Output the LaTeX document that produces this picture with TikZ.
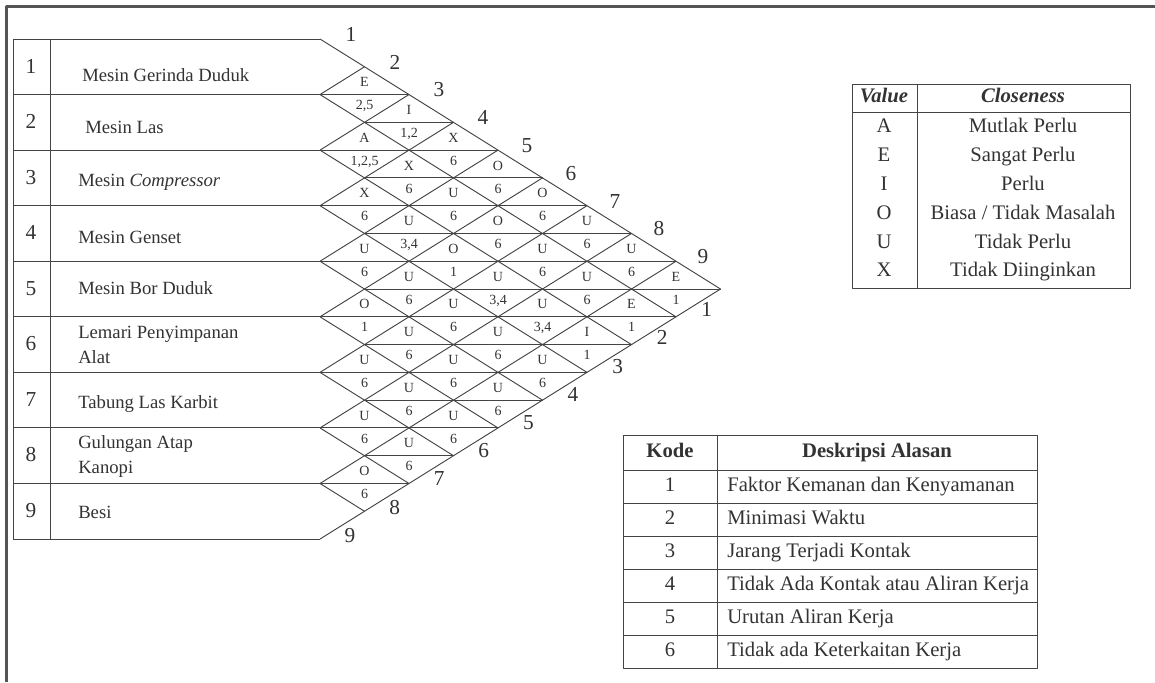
\documentclass[tikz,border=0pt]{standalone}
\usepackage{fontspec}
\setmainfont{Liberation Serif}
\definecolor{ink}{HTML}{333333}
\definecolor{rule}{HTML}{444444}
\definecolor{frame}{HTML}{555555}

% one text line of the relationship chart: #1 = level, #2 = entries left to right
\newcommand\arcrow[2]{%
  \foreach \lbl [count=\idx from 0] in {#2} {%
    \pgfmathtruncatemacro\istop{mod(\idx+#1,2)==0 ? 1 : 0}%
    \pgfmathsetmacro\ty{\istop==1 ? (\Y+\h*#1-11.5) : (\Y+\h*(#1-1)+11.5)}%
    \node[cell] (c-#1-\idx) at ({\X+\w*(\idx+1)},\ty) {\lbl};
  }}

\begin{document}
\begin{tikzpicture}[x=0.75pt,y=-0.75pt,line join=round,
  grid/.style={draw=rule,line width=0.7pt},
  cell/.style={font=\fontsize{10.5}{12}\selectfont,text=ink,inner sep=0pt,text height=1.4ex,text depth=0.2ex},
  edgenum/.style={font=\fontsize{16}{18}\selectfont,text=ink,inner sep=0pt,text height=1.4ex,text depth=0ex},
  rownum/.style={edgenum},
  rowname/.style={font=\fontsize{14}{18.75}\selectfont,text=ink,anchor=base west,inner sep=0pt,align=left},
  tab/.style={font=\fontsize{15.5}{18}\selectfont,text=ink,inner sep=0pt,text height=1.45ex,text depth=0.05ex},
  tabhead/.style={tab,font=\fontsize{15.5}{18}\selectfont\bfseries}]
\useasboundingbox (0,0) rectangle (1155,682);
\fill[white] (0,0) rectangle (1155,682);

% page frame
\draw[draw=frame,line width=2pt] (6.5,682) -- (6.5,6.5) -- (1155,6.5);

\def\X{320}\def\Y{39}\def\h{27.78}\def\w{44.5}

% activity rows on the left
\foreach \k in {0,...,9}
  \draw[grid] (13,{\Y+2*\h*\k}) -- (\X,{\Y+2*\h*\k});
\draw[grid] (13,\Y) -- (13,{\Y+18*\h});
\draw[grid] (50,\Y) -- (50,{\Y+18*\h});

% horizontal diagonals of the diamonds
\foreach \m in {2,...,16} {
  \pgfmathtruncatemacro\dmin{mod(\m,2)==0 ? 1 : 2}
  \pgfmathtruncatemacro\imin{max(1,\m-8)}
  \pgfmathtruncatemacro\dmax{\m+1-2*\imin}
  \draw[grid] ({\X+\w*(\dmin-1)},{\Y+\h*\m}) -- ({\X+\w*(\dmax+1)},{\Y+\h*\m});
}
% slanted grid lines
\foreach \k in {0,...,8}
  \draw[grid] (\X,{\Y+2*\h*\k}) -- ({\X+(9-\k)*\w},{\Y+\h*(\k+9)});
\foreach \k in {1,...,9}
  \draw[grid] (\X,{\Y+2*\h*\k}) -- ({\X+\k*\w},{\Y+\h*\k});

% relationship codes and reasons
\arcrow{2}{E}
\arcrow{3}{{2,5},I}
\arcrow{4}{A,{1,2},X}
\arcrow{5}{{1,2,5},X,6,O}
\arcrow{6}{X,6,U,6,O}
\arcrow{7}{6,U,6,O,6,U}
\arcrow{8}{U,{3,4},O,6,U,6,U}
\arcrow{9}{6,U,1,U,6,U,6,E}
\arcrow{10}{O,6,U,{3,4},U,6,E,1}
\arcrow{11}{1,U,6,U,{3,4},I,1}
\arcrow{12}{U,6,U,6,U,1}
\arcrow{13}{6,U,6,U,6}
\arcrow{14}{U,6,U,6}
\arcrow{15}{6,U,6}
\arcrow{16}{O,6}
\arcrow{17}{6}

% numbering along the two outer edges
\foreach \k in {1,...,9}
  \node[edgenum] (top-\k) at ({351+44*(\k-1)},{37+27.8*(\k-1)}) {\k};
\foreach \k in {1,...,9}
  \node[edgenum] (bot-\k) at ({350+44.6*(9-\k)},{538-28.2*(9-\k)}) {\k};

% row numbers and activity names
\foreach \k in {1,...,9}
  \node[rownum] (rn-\k) at (31,{\Y+2*\h*(\k-1)+\h+2}) {\k};
\node[rowname] (r1) at (82,81) {Mesin Gerinda Duduk};
\node[rowname] (r2) at (85,133) {Mesin Las};
\node[rowname] (r3) at (78,186) {Mesin \textit{Compressor}};
\node[rowname] (r4) at (78,243) {Mesin Genset};
\node[rowname] (r5) at (78,294) {Mesin Bor Duduk};
\node[rowname] (r6) at (78,363) {Lemari Penyimpanan\\Alat};
\node[rowname] (r7) at (78,408) {Tabung Las Karbit};
\node[rowname] (r8) at (78,473) {Gulungan Atap\\Kanopi};
\node[rowname] (r9) at (78,518) {Besi};

% closeness table
\draw[grid] (852,84) rectangle (1130,288);
\draw[grid] (917,84) -- (917,288);
\draw[grid] (852,112) -- (1130,112);
\node[tabhead] (vh) at (884,98) {\textit{Value}};
\node[tabhead] (ch) at (1023,98) {\textit{Closeness}};
\node[tab] (v-a) at (884,128) {A};
\node[tab] (d-a) at (1023,128) {Mutlak Perlu};
\node[tab] (v-e) at (884,157) {E};
\node[tab] (d-e) at (1023,157) {Sangat Perlu};
\node[tab] (v-i) at (884,186) {I};
\node[tab] (d-i) at (1023,186) {Perlu};
\node[tab] (v-o) at (884,215) {O};
\node[tab] (d-o) at (1023,215) {Biasa / Tidak Masalah};
\node[tab] (v-u) at (884,244) {U};
\node[tab] (d-u) at (1023,244) {Tidak Perlu};
\node[tab] (v-x) at (884,272) {X};
\node[tab] (d-x) at (1023,272) {Tidak Diinginkan};

% reason table
\draw[grid] (623,435) rectangle (1037,668);
\draw[grid] (717,435) -- (717,668);
\foreach \yy in {470,503,536,569,602,635}
  \draw[grid] (623,\yy) -- (1037,\yy);
\node[tabhead] (kh) at (670,453) {Kode};
\node[tabhead] (dh) at (877,453) {Deskripsi Alasan};
\foreach \d [count=\i] in {Faktor Kemanan dan Kenyamanan,Minimasi Waktu,Jarang Terjadi Kontak,Tidak Ada Kontak atau Aliran Kerja,Urutan Aliran Kerja,Tidak ada Keterkaitan Kerja} {
  \node[tab] (k-\i) at (670,{487+33*(\i-1)}) {\i};
  \node[tab,anchor=west] (a-\i) at (727,{487+33*(\i-1)}) {\d};
}
\end{tikzpicture}
\end{document}
